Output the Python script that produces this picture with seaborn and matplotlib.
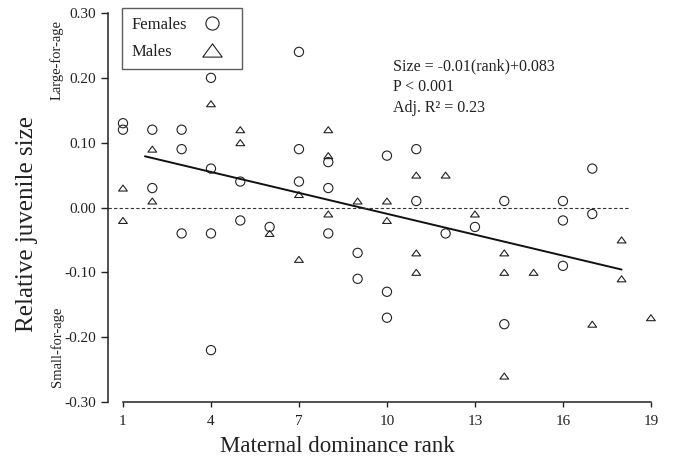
import numpy as np
import pandas as pd
import matplotlib
matplotlib.use("Agg")
import matplotlib.pyplot as plt
from matplotlib.lines import Line2D
from matplotlib.path import Path
import seaborn as sns

# ---- data ----
female_rank = [1, 1, 2, 2, 3, 3, 3, 4, 4, 4, 4, 5, 5, 6, 7, 7, 7, 8, 8, 8,
               9, 9, 10, 10, 10, 11, 11, 12, 13, 14, 14, 16, 16, 16, 17, 17]
female_size = [0.13, 0.12, 0.12, 0.03, 0.12, 0.09, -0.04, 0.20, 0.06, -0.04, -0.22,
               0.04, -0.02, -0.03, 0.24, 0.09, 0.04, 0.07, 0.03, -0.04,
               -0.07, -0.11, 0.08, -0.13, -0.17, 0.09, 0.01, -0.04, -0.03,
               0.01, -0.18, 0.01, -0.02, -0.09, 0.06, -0.01]
male_rank = [1, 1, 2, 2, 4, 5, 5, 6, 7, 7, 8, 8, 8, 9, 10, 10, 11, 11, 11, 12,
             13, 14, 14, 14, 15, 17, 18, 18, 19]
male_size = [0.03, -0.02, 0.09, 0.01, 0.16, 0.12, 0.10, -0.04, 0.02, -0.08,
             0.12, 0.08, -0.01, 0.01, 0.01, -0.02, 0.05, -0.07, -0.10, 0.05,
             -0.01, -0.07, -0.10, -0.26, -0.10, -0.18, -0.05, -0.11, -0.17]
fit_slope = -0.01075
fit_intercept = 0.0978
fit_range = [1.75, 18.0]
x_ticks = [1, 4, 7, 10, 13, 16, 19]
y_ticks = [-0.30, -0.20, -0.10, 0.00, 0.10, 0.20, 0.30]
legend_labels = ["Females", "Males"]

sns.set_style("white")
plt.rcParams["font.family"] = ["Liberation Serif", "DejaVu Serif"]

fig = plt.figure(figsize=(6.74, 4.62), dpi=100)
W, H = 674, 462
ax = fig.add_axes([108.3 / W, (H - 402) / H, 557.3 / W, 389 / H])

fem = pd.DataFrame({"rank": female_rank, "size": female_size})
mal = pd.DataFrame({"rank": male_rank, "size": male_size})

tri = Path([(0, 0.68), (-1, -0.68), (1, -0.68), (0, 0.68)],
           [Path.MOVETO, Path.LINETO, Path.LINETO, Path.CLOSEPOLY])

sns.scatterplot(data=fem, x="rank", y="size", ax=ax, marker="o", s=44,
                facecolor="none", edgecolor="#222222", linewidth=0.8)
sns.scatterplot(data=mal, x="rank", y="size", ax=ax, marker=tri, s=40,
                facecolor="none", edgecolor="#222222", linewidth=0.8)

lx = np.array(fit_range)
fit = pd.DataFrame({"rank": lx, "size": fit_intercept + fit_slope * lx})
sns.lineplot(data=fit, x="rank", y="size", ax=ax, color="#111111", linewidth=1.4)

ax.hlines(0, 0.5, 18.3, colors="#333333", linestyles=(0, (3, 2)), linewidth=0.8)

ax.set_xlim(0.5, 19.5)
ax.set_ylim(-0.3, 0.3)
ax.set_xticks(x_ticks)
ax.set_xticklabels([str(v) for v in x_ticks])
ax.set_yticks(y_ticks)
ax.set_yticklabels([f"{v:.2f}" for v in y_ticks])
ax.tick_params(axis="both", direction="out", width=1, colors="#222222",
               labelsize=11, bottom=True, left=True)
ax.tick_params(axis="x", length=3.5, pad=6)
ax.tick_params(axis="y", length=5, pad=4)
for lab in ax.get_xticklabels() + ax.get_yticklabels():
    lab.set_color("#222222")
ax.spines["top"].set_visible(False)
ax.spines["right"].set_visible(False)
ax.spines["left"].set_color("#222222")
ax.spines["bottom"].set_color("#222222")
ax.spines["left"].set_linewidth(1.1)
ax.spines["bottom"].set_linewidth(1.1)
ax.spines["bottom"].set_bounds(1, 19)
ax.set_xlabel("")
ax.set_ylabel("")

fig.text(337 / W, 1 - 446 / H, "Maternal dominance rank", ha="center", va="center",
         fontsize=16.5, color="#222222")
fig.text(27 / W, 1 - 224 / H, "Relative juvenile size", ha="center", va="center",
         rotation=90, fontsize=18, color="#222222")
fig.text(57 / W, 1 - 60 / H, "Large-for-age", ha="center", va="center",
         rotation=90, fontsize=10.5, color="#222222")
fig.text(57 / W, 1 - 347 / H, "Small-for-age", ha="center", va="center",
         rotation=90, fontsize=10.5, color="#222222")

ann = "Size = -0.01(rank)+0.083\nP < 0.001\nAdj. R\u00b2 = 0.23"
fig.text(393 / W, 1 - 58 / H, ann, ha="left", va="top", fontsize=11.5,
         color="#222222", linespacing=1.4)

handles = [
    Line2D([], [], linestyle="none", marker="o", markersize=9.5,
           markerfacecolor="none", markeredgecolor="#222222", markeredgewidth=0.8),
    Line2D([], [], linestyle="none", marker=tri, markersize=14,
           markerfacecolor="none", markeredgecolor="#222222", markeredgewidth=0.8),
]
leg = ax.legend(handles, legend_labels, loc="upper left",
                bbox_to_anchor=(122 / W, 1 - 8 / H), bbox_transform=fig.transFigure,
                markerfirst=False, frameon=True, fancybox=False, fontsize=12,
                borderaxespad=0, borderpad=0.55, handletextpad=0.25,
                labelspacing=0.62, handlelength=2.5)
leg.get_frame().set_edgecolor("#333333")
leg.get_frame().set_linewidth(1.0)
# left-align the label texts within the column (markers stay at the right)
fig.canvas.draw()
texts = leg.get_texts()
r = fig.canvas.get_renderer()
widths = [t.get_window_extent(r).width for t in texts]
wmax = max(widths)
for t, w in zip(texts, widths):
    t.set_position((-(wmax - w), 0))
    t.set_color("#222222")

fig.savefig("out.png", dpi=100)
